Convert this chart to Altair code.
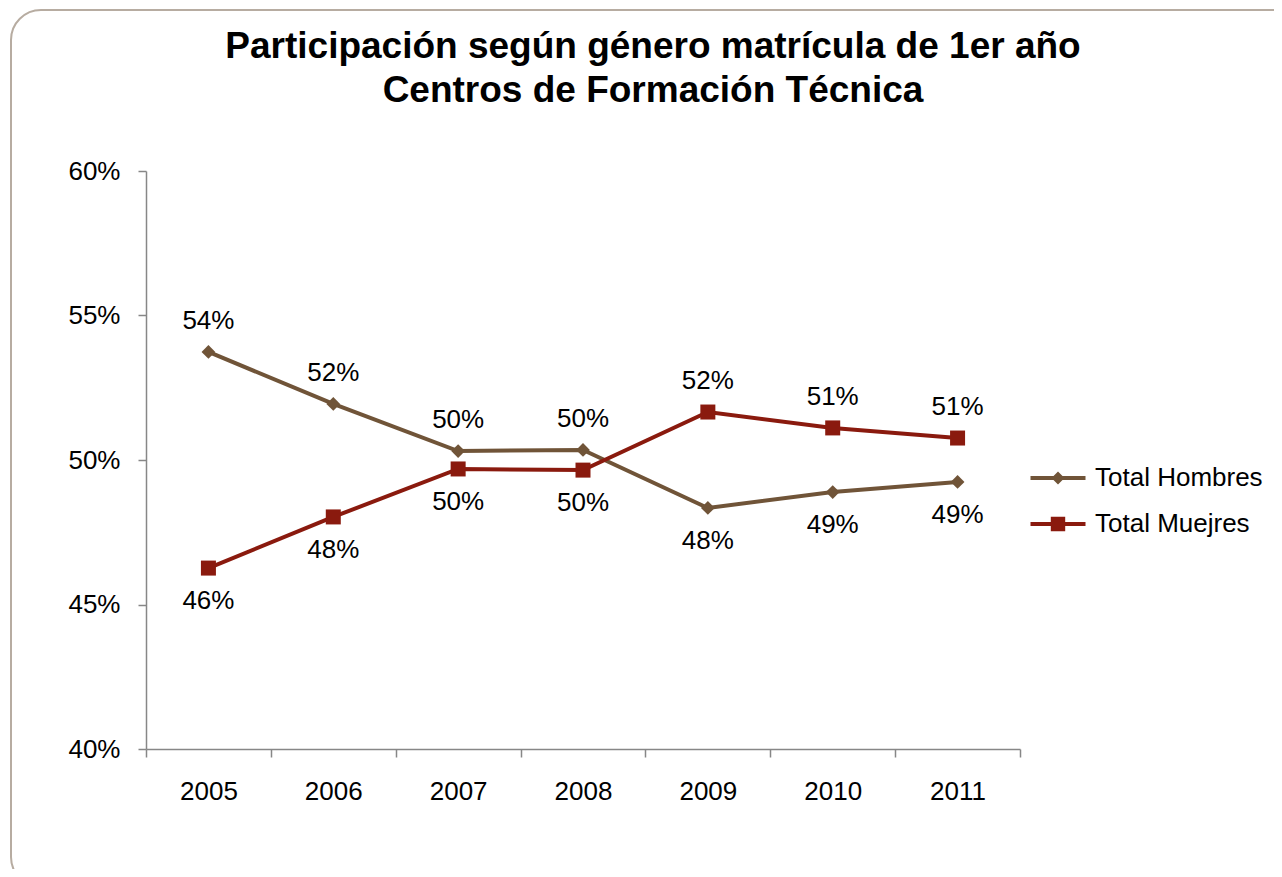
import altair as alt
import pandas as pd

years = ["2005", "2006", "2007", "2008", "2009", "2010", "2011"]
hombres = [0.5374, 0.5194, 0.5031, 0.5035, 0.4834, 0.4889, 0.4924]
mujeres = [0.4626, 0.4803, 0.4969, 0.4965, 0.5166, 0.5111, 0.5076]
series_names = ["Total Hombres", "Total Muejres"]
colors = ["#705438", "#8a1a0e"]
title_lines = ["Participación según género matrícula de 1er año",
               "Centros de Formación Técnica"]
y_ticks = [0.40, 0.45, 0.50, 0.55, 0.60]

FONT = "Liberation Sans"
FS = 26

rows = []
for i, yr in enumerate(years):
    h, m = hombres[i], mujeres[i]
    rows.append({"year": yr, "serie": series_names[0], "value": h,
                 "pos": "above" if h >= m else "below"})
    rows.append({"year": yr, "serie": series_names[1], "value": m,
                 "pos": "above" if m > h else "below"})
df = pd.DataFrame(rows)

x_enc = alt.X("year:N", sort=years, bandPosition=0.5,
              scale=alt.Scale(type="band", paddingInner=0, paddingOuter=0),
              axis=alt.Axis(title=None, labelAngle=0, tickBand="extent",
                            labelFontSize=FS, labelFont=FONT, labelColor="black",
                            labelPadding=21, tickSize=8, domainColor="#878787",
                            tickColor="#878787", domainWidth=1.5, tickWidth=1.5))
y_enc = alt.Y("value:Q", scale=alt.Scale(domain=[0.40, 0.60]),
              axis=alt.Axis(title=None, values=y_ticks, format=".0%", grid=False,
                            labelFontSize=FS, labelFont=FONT, labelColor="black",
                            labelPadding=18, tickSize=8, domainColor="#878787",
                            tickColor="#878787", domainWidth=1.5, tickWidth=1.5))
color_nolegend = alt.Color("serie:N", scale=alt.Scale(domain=series_names, range=colors),
                           legend=None)

base = alt.Chart(df)

lines = base.mark_line(strokeWidth=4).encode(x=x_enc, y=y_enc, color=color_nolegend,
                                             detail="serie:N")
pts = base.mark_point(filled=True, opacity=1).encode(
    x=x_enc, y=y_enc, color=color_nolegend,
    shape=alt.Shape("serie:N", scale=alt.Scale(domain=series_names, range=["diamond", "square"]),
                    legend=None),
    size=alt.Size("serie:N", scale=alt.Scale(domain=series_names, range=[190, 225]), legend=None),
)
lab_above = base.transform_filter(alt.datum.pos == "above").mark_text(
    dy=-31, fontSize=FS, font=FONT, color="black").encode(
    x=x_enc, y=y_enc, text=alt.Text("value:Q", format=".0%"))
lab_below = base.transform_filter(alt.datum.pos == "below").mark_text(
    dy=33, fontSize=FS, font=FONT, color="black").encode(
    x=x_enc, y=y_enc, text=alt.Text("value:Q", format=".0%"))

diamond_path = ("M-2.75,-0.2L2.75,-0.2L2.75,0.2L-2.75,0.2Z "
                "M0,-0.65L0.65,0L0,0.65L-0.65,0Z")
square_path = ("M-2.75,-0.2L2.75,-0.2L2.75,0.2L-2.75,0.2Z "
               "M-0.72,-0.72L0.72,-0.72L0.72,0.72L-0.72,0.72Z")

legend_layer = base.transform_filter("false").mark_point(filled=True, opacity=1).encode(
    x=x_enc, y=y_enc,
    color=alt.Color("serie:N", scale=alt.Scale(domain=series_names, range=colors),
                    legend=alt.Legend(title=None, orient="none", legendX=899, legendY=294,
                                      padding=0, symbolSize=400, labelOffset=24,
                                      labelFontSize=FS, labelFont=FONT, labelColor="black",
                                      labelLimit=400,
                                      rowPadding=20, symbolStrokeWidth=0, symbolOpacity=1)),
    shape=alt.Shape("serie:N", scale=alt.Scale(domain=series_names,
                                               range=[diamond_path, square_path])),
)

frame = alt.Chart(pd.DataFrame({"k": [0]})).mark_rect(
    filled=False, stroke="#b7aca1", strokeWidth=2, cornerRadius=30).encode(
    x=alt.value(-135), x2=alt.value(1160), y=alt.value(-161), y2=alt.value(716))

chart = alt.layer(frame, lines, pts, lab_above, lab_below, legend_layer).resolve_scale(
    color="independent", shape="independent", size="independent"
).properties(
    width=874, height=578,
    title=alt.TitleParams(text=title_lines, fontSize=37, fontWeight="bold", font=FONT,
                          color="black", anchor="middle", dx=70, offset=-130,
                          lineHeight=44, baseline="alphabetic"),
    autosize=alt.AutoSizeParams(type="none"),
    padding={"left": 138, "top": 163, "right": 254, "bottom": 120},
    background="white",
).configure_view(stroke=None)

chart.save("out.html", embed_options={"renderer": "svg", "actions": False})
